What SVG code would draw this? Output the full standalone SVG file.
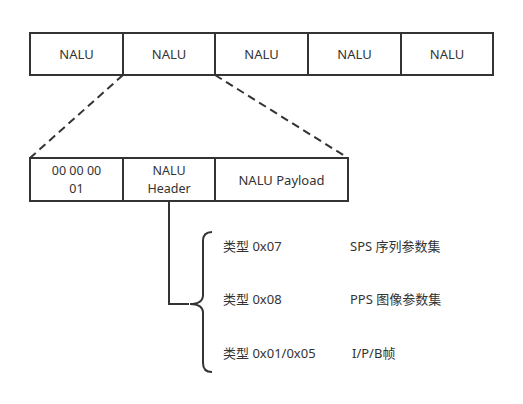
<svg xmlns="http://www.w3.org/2000/svg" width="523" height="404" viewBox="0 0 523 404">
<style>
.box{fill:#fff;stroke:#333;stroke-width:2}
.t{font-family:"Noto Sans","Noto Sans CJK SC",sans-serif;font-size:13px;fill:#333}
.s{font-size:12.5px}
.c{text-anchor:middle}
.ln{fill:none;stroke:#333;stroke-width:2}
.dash{fill:none;stroke:#333;stroke-width:2;stroke-dasharray:8 5}
</style>
<rect width="523" height="404" fill="#fff"/>
<g id="top-row">
<g id="nalu1"><rect class="box" x="30" y="33" width="93" height="42"/><text class="t c" x="76.5" y="58.5">NALU</text></g>
<g id="nalu2"><rect class="box" x="123" y="33" width="92" height="42"/><text class="t c" x="169" y="58.5">NALU</text></g>
<g id="nalu3"><rect class="box" x="215" y="33" width="93" height="42"/><text class="t c" x="261.5" y="58.5">NALU</text></g>
<g id="nalu4"><rect class="box" x="308" y="33" width="93" height="42"/><text class="t c" x="354.5" y="58.5">NALU</text></g>
<g id="nalu5"><rect class="box" x="401" y="33" width="92" height="42"/><text class="t c" x="447" y="58.5">NALU</text></g>
</g>
<g id="bottom-row">
<g id="startcode"><rect class="box" x="30" y="158" width="93" height="43"/><text class="t s c" x="76.5" y="175">00 00 00</text><text class="t s c" x="76.5" y="193">01</text></g>
<g id="header"><rect class="box" x="123" y="158" width="92" height="43"/><text class="t s c" x="169" y="175">NALU</text><text class="t s c" x="169" y="193">Header</text></g>
<g id="payload"><rect class="box" x="215" y="158" width="133" height="43"/><text class="t c" x="281.5" y="184.5">NALU Payload</text></g>
</g>
<g id="connectors">
<line class="dash" x1="123" y1="75" x2="30" y2="158"/>
<line class="dash" x1="215" y1="75" x2="348" y2="158"/>
<polyline class="ln" points="169,201 169,304 189,304"/>
<path class="ln" d="M212,232 Q203,232 203,241 L203,295 Q203,304 190,304 Q203,304 203,313 L203,363 Q203,372 212,372"/>
</g>
<g id="types">
<g id="t1"><text class="t" x="223" y="251">类型 0x07</text><text class="t" x="350" y="251">SPS 序列参数集</text></g>
<g id="t2"><text class="t" x="223" y="304">类型 0x08</text><text class="t" x="350" y="304">PPS 图像参数集</text></g>
<g id="t3"><text class="t" x="223" y="358">类型 0x01/0x05</text><text class="t" x="352" y="358">I/P/B帧</text></g>
</g>
</svg>
